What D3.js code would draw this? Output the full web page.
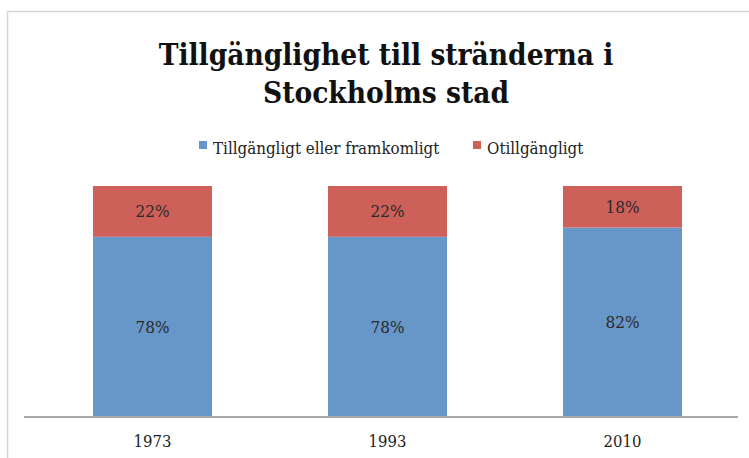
<!DOCTYPE html>
<html>
<head>
<meta charset="utf-8">
<script src="https://cdn.jsdelivr.net/npm/d3@7"></script>
<style>
  body { margin: 0; background: #fff; }
  svg { display: block; }
</style>
</head>
<body>
<svg width="749" height="458"></svg>
<script>
// chart data
const years = ["1973", "1993", "2010"];
const accessible = [78, 78, 82];
const inaccessible = [22, 22, 18];
const seriesNames = ["Tillgängligt eller framkomligt", "Otillgängligt"];
const titleLines = ["Tillgänglighet till stränderna i", "Stockholms stad"];

const colors = ["#6797c9", "#cd615a"];
const serif = "'DejaVu Serif Condensed', 'DejaVu Serif', serif";

let svg = d3.select("svg");

// frame (only top and left edges visible in the crop)
svg.append("line").attr("x1", 7.5).attr("x2", 749).attr("y1", 11.5).attr("y2", 11.5)
  .attr("stroke", "#d6d6d6").attr("stroke-width", 1.5);
svg.append("line").attr("x1", 7.5).attr("x2", 7.5).attr("y1", 11.5).attr("y2", 458)
  .attr("stroke", "#d6d6d6").attr("stroke-width", 1.5);

// title
svg.append("g")
  .selectAll("text")
  .data(titleLines)
  .enter()
  .append("text")
  .attr("x", 386)
  .attr("y", (d, i) => 65 + i * 38)
  .attr("text-anchor", "middle")
  .attr("font-family", serif)
  .attr("font-weight", "bold")
  .attr("font-size", 29.5)
  .attr("fill", "#111")
  .text((d) => d);

// legend
let legendX = [199, 473];
let legend = svg.append("g");
seriesNames.forEach((name, i) => {
  legend.append("rect")
    .attr("x", legendX[i]).attr("y", 141)
    .attr("width", 8).attr("height", 8)
    .attr("fill", colors[i]);
  legend.append("text")
    .attr("x", legendX[i] + 14).attr("y", 154)
    .attr("font-family", serif).attr("font-size", 16.8)
    .attr("fill", "#222")
    .text(name);
});

// scales
let x = d3.scaleBand().domain(years).range([35, 740]).paddingInner(0.4936).paddingOuter(0.2468);
let y = d3.scaleLinear().domain([0, 100]).range([417, 186]);

let rows = years.map((yr, i) => ({ year: yr, a: accessible[i], b: inaccessible[i] }));
let stack = d3.stack().keys(["a", "b"])(rows);

let plot = svg.append("g");
plot.selectAll("g.series")
  .data(stack)
  .enter()
  .append("g")
  .attr("fill", (d, i) => colors[i])
  .selectAll("rect")
  .data((d) => d)
  .enter()
  .append("rect")
  .attr("x", (d) => x(d.data.year))
  .attr("width", x.bandwidth())
  .attr("y", (d) => y(d[1]))
  .attr("height", (d) => y(d[0]) - y(d[1]));

// data labels
stack.forEach((s) => {
  plot.selectAll(null)
    .data(s)
    .enter()
    .append("text")
    .attr("x", (d) => x(d.data.year) + x.bandwidth() / 2)
    .attr("y", (d) => (y(d[0]) + y(d[1])) / 2 + 6)
    .attr("text-anchor", "middle")
    .attr("font-family", serif)
    .attr("font-size", 17)
    .attr("fill", "#2a2a2a")
    .text((d) => (d[1] - d[0]) + "%");
});

// x axis
let axis = svg.append("g")
  .attr("transform", "translate(0,417)")
  .call(d3.axisBottom(x).tickSize(0).tickSizeOuter(0).tickPadding(18));
axis.select(".domain").remove();
axis.append("line")
  .attr("x1", 24).attr("x2", 738)
  .attr("stroke", "#a8a8a8").attr("stroke-width", 2);
axis.selectAll("text")
  .attr("font-family", serif)
  .attr("font-size", 16.5)
  .attr("fill", "#222");
</script>
</body>
</html>
